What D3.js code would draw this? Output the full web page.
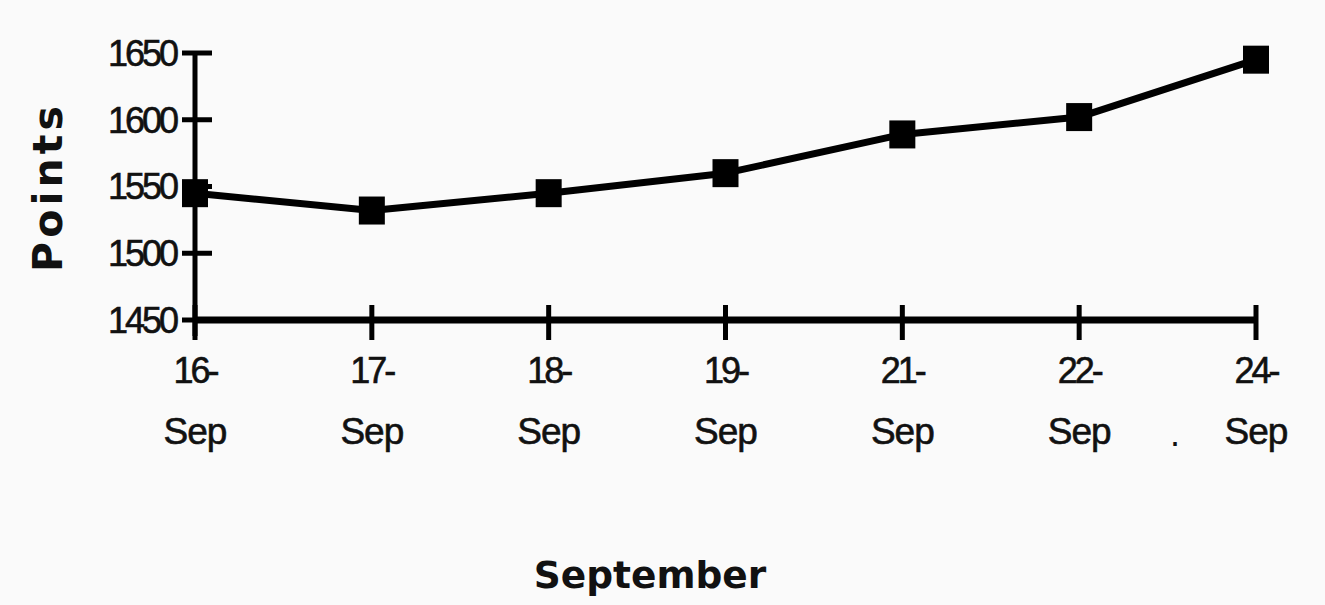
<!DOCTYPE html>
<html><head><meta charset="utf-8">
<script src="https://cdn.jsdelivr.net/npm/d3@7"></script>
<style>
html,body{margin:0;padding:0;background:#fafafa;}
svg{display:block;}
</style></head>
<body>
<svg id="chart" width="1325" height="605"></svg>
<script>
const categories = ["16-Sep","17-Sep","18-Sep","19-Sep","21-Sep","22-Sep","24-Sep"];
const labelTop = ["16-","17-","18-","19-","21-","22-","24-"];
const labelBottom = ["Sep","Sep","Sep","Sep","Sep","Sep","Sep"];
const points = [1545, 1532, 1545, 1560, 1589, 1602, 1645];
const yTicks = [1450, 1500, 1550, 1600, 1650];

const svg = d3.select("#chart");
svg.append("rect").attr("width",1325).attr("height",605).attr("fill","#fafafa");

const x = d3.scalePoint().domain(categories).range([195, 1256]);
const y = d3.scaleLinear().domain([1450, 1650]).range([320, 53]);

const font = "'Liberation Sans', Arial, sans-serif";

// Y axis
svg.append("line").attr("x1",195).attr("x2",195).attr("y1",y(1650)).attr("y2",336)
  .attr("stroke","#000").attr("stroke-width",5);
svg.selectAll(".ytick").data(yTicks).join("line").attr("class","ytick")
  .attr("x1",182).attr("x2",212).attr("y1",d=>y(d)).attr("y2",d=>y(d))
  .attr("stroke","#000").attr("stroke-width",5);
svg.selectAll(".ylab").data(yTicks).join("text").attr("class","ylab")
  .attr("x",176).attr("y",d=>y(d)).attr("dy","0.36em")
  .attr("text-anchor","end").attr("font-family",font).attr("font-size",36)
  .attr("letter-spacing",-3).attr("stroke","#111").attr("stroke-width",0.6)
  .attr("fill","#111").text(d=>d);

// X axis
svg.append("line").attr("x1",195).attr("x2",1256).attr("y1",y(1450)).attr("y2",y(1450))
  .attr("stroke","#000").attr("stroke-width",7);
svg.selectAll(".xtick").data(categories).join("line").attr("class","xtick")
  .attr("x1",d=>x(d)).attr("x2",d=>x(d)).attr("y1",305).attr("y2",340)
  .attr("stroke","#000").attr("stroke-width",5);
svg.selectAll(".xlab1").data(categories).join("text").attr("class","xlab1")
  .attr("x",d=>x(d)).attr("y",383).attr("text-anchor","middle")
  .attr("font-family",font).attr("font-size",36).attr("letter-spacing",-3)
  .attr("stroke","#111").attr("stroke-width",0.6).attr("fill","#111")
  .text((d,i)=>labelTop[i]);
svg.selectAll(".xlab2").data(categories).join("text").attr("class","xlab2")
  .attr("x",d=>x(d)).attr("y",444).attr("text-anchor","middle")
  .attr("font-family",font).attr("font-size",37).attr("letter-spacing",-1)
  .attr("stroke","#111").attr("stroke-width",0.6).attr("fill","#111")
  .text((d,i)=>labelBottom[i]);
svg.append("text").attr("x",1175).attr("y",446).attr("text-anchor","middle")
  .attr("font-family",font).attr("font-size",36).attr("fill","#111").text(".");

// line
const line = d3.line().x((d,i)=>x(categories[i])).y(d=>y(d));
svg.append("path").datum(points).attr("d",line).attr("fill","none")
  .attr("stroke","#000").attr("stroke-width",7).attr("stroke-linejoin","round");
svg.selectAll(".mk").data(points).join("rect").attr("class","mk")
  .attr("x",(d,i)=>x(categories[i])-13).attr("y",d=>y(d)-14)
  .attr("width",26).attr("height",28).attr("fill","#000");

// titles
svg.append("text").attr("transform","translate(62,189) rotate(-90)")
  .attr("text-anchor","middle").attr("font-family","'DejaVu Sans', sans-serif")
  .attr("font-weight","bold").attr("font-size",41).attr("textLength",166)
  .attr("lengthAdjust","spacing").attr("fill","#111").text("Points");
svg.append("text").attr("x",650).attr("y",588).attr("text-anchor","middle")
  .attr("font-family","'DejaVu Sans', sans-serif").attr("font-weight","bold")
  .attr("font-size",37.5).attr("fill","#111").text("September");
</script>
</body></html>
